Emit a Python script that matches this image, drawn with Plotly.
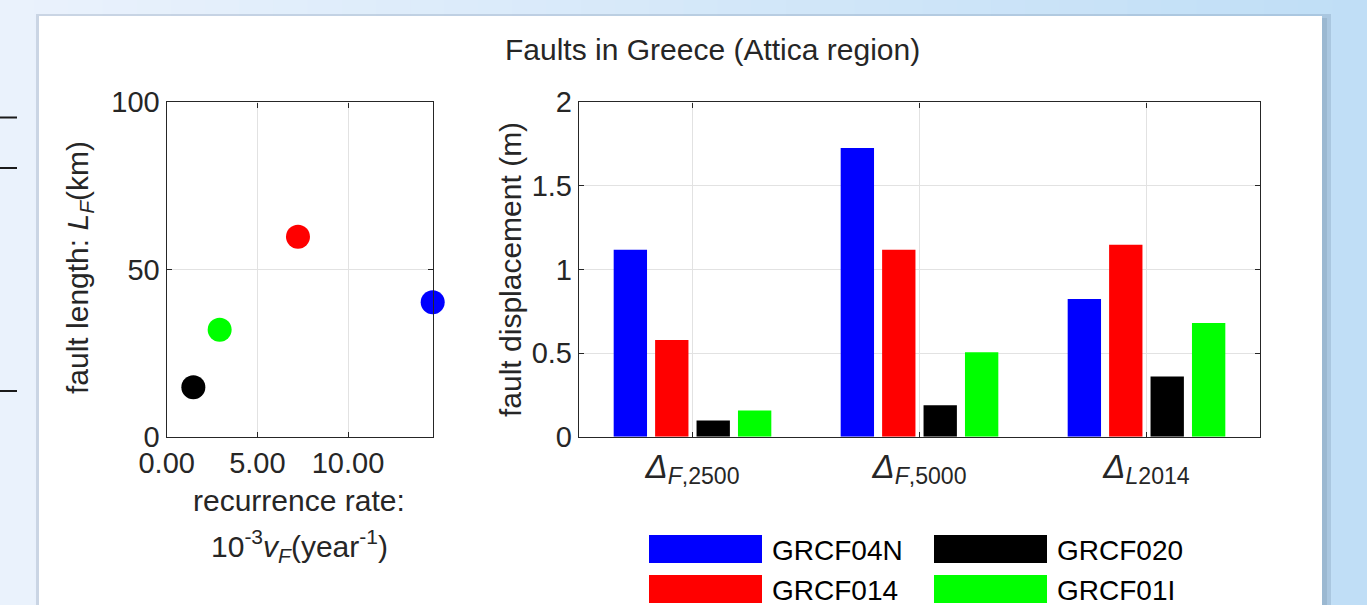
import plotly.graph_objects as go

# ---------------- data ----------------
faults = ["GRCF04N", "GRCF014", "GRCF020", "GRCF01I"]
fault_colors = ["#0000ff", "#ff0000", "#000000", "#00ff00"]

# left panel: recurrence rate (10^-3 / year) vs fault length (km)
recurrence_rate = [14.67, 7.24, 1.47, 2.92]
fault_length = [40.2, 59.8, 14.8, 32.0]

# right panel: fault displacement (m) per scenario
scenario_pos = [1, 2, 3]
scenario_labels = [
    "<i>Δ</i><sub><i>F</i>,2500</sub>",
    "<i>Δ</i><sub><i>F</i>,5000</sub>",
    "<i>Δ</i><sub><i>L</i>2014</sub>",
]
disp_GRCF04N = [1.118, 1.726, 0.824]
disp_GRCF014 = [0.579, 1.118, 1.148]
disp_GRCF020 = [0.097, 0.188, 0.360]
disp_GRCF01I = [0.157, 0.505, 0.680]
displacements = [disp_GRCF04N, disp_GRCF014, disp_GRCF020, disp_GRCF01I]

left_xticks = [0, 5, 10]
left_yticks = [0, 50, 100]
right_yticks = [0, 0.5, 1, 1.5, 2]

# ---------------- layout helpers ----------------
W, H = 1367, 605
FONT = "Liberation Sans, Arial, Helvetica, sans-serif"
TXT = "#262626"
TICK_SIZE = 29
CAT_SIZE = 33
LABEL_SIZE = 30
LEGEND_SIZE = 28


def px(x):
    return x / W


def py(y):
    return 1 - y / H


fig = go.Figure()

# scatter points (left panel)
for name, color, rx, ly in zip(faults, fault_colors, recurrence_rate, fault_length):
    fig.add_trace(go.Scatter(
        x=[rx], y=[ly], mode="markers", name=name,
        marker=dict(color=color, size=24, line=dict(width=0)),
        cliponaxis=False, showlegend=False, xaxis="x", yaxis="y",
    ))

# grouped bars (right panel)
for name, color, vals in zip(faults, fault_colors, displacements):
    fig.add_trace(go.Bar(
        x=scenario_pos, y=vals, name=name,
        marker=dict(color=color, line=dict(width=0)),
        showlegend=False, xaxis="x2", yaxis="y2",
    ))

axis_common = dict(
    showline=True, linecolor=TXT, linewidth=1.4, mirror="allticks",
    ticks="inside", ticklen=5, tickcolor=TXT, tickwidth=1,
    showgrid=True, gridcolor="#e2e2e2", gridwidth=1, zeroline=False,
    automargin=False,
    tickfont=dict(family=FONT, size=TICK_SIZE, color=TXT),
)

ytop, ybot = 102.3, 436.7

shapes = []
# background gradient strips
n_strips = 40
c0 = (234, 242, 252)
c1 = (192, 222, 246)
for i in range(n_strips):
    t = i / (n_strips - 1)
    col = "rgb(%d,%d,%d)" % tuple(round(a + (b - a) * t) for a, b in zip(c0, c1))
    shapes.append(dict(type="rect", xref="paper", yref="paper",
                       x0=i / n_strips, x1=(i + 1) / n_strips + 0.002, y0=0, y1=1,
                       fillcolor=col, line=dict(width=0), layer="below"))
# panel shadow + white panel
shapes.append(dict(type="rect", xref="paper", yref="paper",
                   x0=px(36), x1=px(1331), y0=0, y1=py(14),
                   fillcolor="rgba(90,115,145,0.22)", line=dict(width=0), layer="below"))
shapes.append(dict(type="rect", xref="paper", yref="paper",
                   x0=px(1322), x1=px(1327), y0=0, y1=py(18),
                   fillcolor="rgba(90,115,145,0.18)", line=dict(width=0), layer="below"))
shapes.append(dict(type="rect", xref="paper", yref="paper",
                   x0=px(39), x1=px(1322), y0=0, y1=py(16),
                   fillcolor="white", line=dict(width=0), layer="below"))
# left-edge dashes
for yy in [117.5, 168, 391]:
    shapes.append(dict(type="line", xref="paper", yref="paper",
                       x0=0, x1=px(17), y0=py(yy), y1=py(yy),
                       line=dict(color="#1a1a1a", width=2), layer="below"))

# custom legend (large swatches)
leg_cols = [649, 934]
leg_rows = [549, 589]
sw_w, sw_h = 113, 28
annotations = []
for k, (name, color) in enumerate(zip(faults, fault_colors)):
    col, row = divmod(k, 2)
    x0 = leg_cols[col]
    yc = leg_rows[row]
    shapes.append(dict(type="rect", xref="paper", yref="paper",
                       x0=px(x0), x1=px(x0 + sw_w),
                       y0=py(yc + sw_h / 2), y1=py(yc - sw_h / 2),
                       fillcolor=color, line=dict(width=0)))
    annotations.append(dict(text=name, xref="paper", yref="paper",
                            x=px(x0 + sw_w + 8), y=py(yc + 1), xanchor="left", yanchor="middle",
                            showarrow=False, font=dict(family=FONT, size=LEGEND_SIZE, color="#000")))

# titles and axis labels
annotations += [
    dict(text="Faults in Greece (Attica region)", xref="paper", yref="paper",
         x=px(712), y=py(50), xanchor="center", yanchor="middle", showarrow=False,
         font=dict(family=FONT, size=LABEL_SIZE, color=TXT)),
    dict(text="fault length: <i>L</i><sub><i>F</i></sub>(km)", xref="paper", yref="paper",
         x=px(80), y=py(268), xanchor="center", yanchor="middle", textangle=-90,
         showarrow=False, font=dict(family=FONT, size=LABEL_SIZE, color=TXT)),
    dict(text="fault displacement (m)", xref="paper", yref="paper",
         x=px(510), y=py(270), xanchor="center", yanchor="middle", textangle=-90,
         showarrow=False, font=dict(family=FONT, size=LABEL_SIZE, color=TXT)),
    dict(text="recurrence rate:", xref="paper", yref="paper",
         x=px(299), y=py(500), xanchor="center", yanchor="middle",
         showarrow=False, font=dict(family=FONT, size=LABEL_SIZE, color=TXT)),
    dict(text="10<sup>-3</sup><i>v</i><sub><i>F</i></sub>(year<sup>-1</sup>)", xref="paper", yref="paper",
         x=px(299), y=py(546), xanchor="center", yanchor="middle",
         showarrow=False, font=dict(family=FONT, size=LABEL_SIZE, color=TXT)),
]

fig.update_layout(
    width=W, height=H, autosize=False,
    margin=dict(l=0, r=0, t=0, b=0, pad=0),
    paper_bgcolor="#e4eefa", plot_bgcolor="white",
    barmode="group", bargap=0.27, bargroupgap=0.195,
    shapes=shapes, annotations=annotations,
    xaxis=dict(axis_common, domain=[px(166.7), px(432.7)], range=[0, 14.67],
               tickvals=left_xticks, tickformat=".2f", anchor="y"),
    yaxis=dict(axis_common, domain=[py(ybot), py(ytop)], range=[0, 100],
               tickvals=left_yticks, anchor="x"),
    xaxis2=dict(axis_common, domain=[px(579), px(1260)], range=[0.5, 3.5],
                tickvals=scenario_pos, ticktext=scenario_labels, anchor="y2",
                tickfont=dict(family=FONT, size=CAT_SIZE, color=TXT)),
    yaxis2=dict(axis_common, domain=[py(ybot), py(ytop)], range=[0, 2],
                tickvals=right_yticks, anchor="x2"),
)

fig.write_html(
    "out.html",
    post_script="document.body.style.margin='0';document.body.style.overflow='hidden';",
)
